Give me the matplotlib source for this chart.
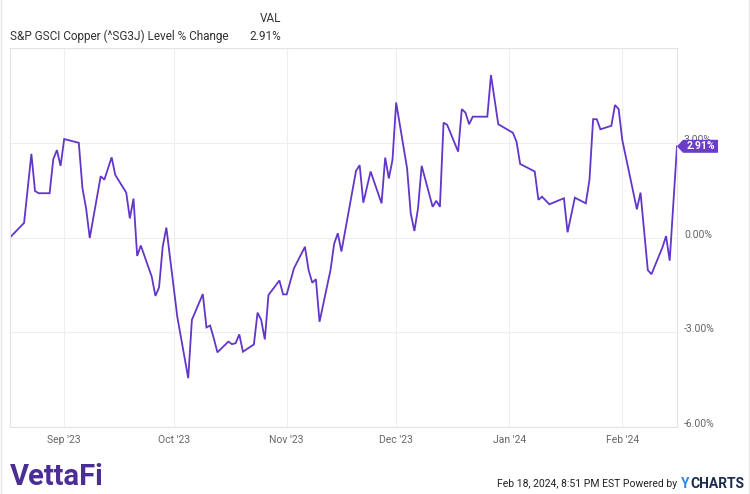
import numpy as np
import pandas as pd
import matplotlib
matplotlib.use('Agg')
import matplotlib.pyplot as plt
import matplotlib.dates as mdates
from matplotlib.patches import Polygon
from matplotlib.lines import Line2D

plt.rcParams['font.family'] = ['Roboto', 'DejaVu Sans']

#################################################
#            Data                               #
#################################################

dates = [
    '2023-08-17', '2023-08-21', '2023-08-23', '2023-08-24', '2023-08-25',
    '2023-08-28', '2023-08-29', '2023-08-30', '2023-08-31', '2023-09-01',
    '2023-09-05', '2023-09-06', '2023-09-07', '2023-09-08', '2023-09-11',
    '2023-09-12', '2023-09-14', '2023-09-15', '2023-09-18', '2023-09-19',
    '2023-09-20', '2023-09-21', '2023-09-22', '2023-09-25', '2023-09-26',
    '2023-09-27', '2023-09-28', '2023-09-29', '2023-10-02', '2023-10-05',
    '2023-10-06', '2023-10-09', '2023-10-10', '2023-10-11', '2023-10-12',
    '2023-10-13', '2023-10-16', '2023-10-17', '2023-10-18', '2023-10-19',
    '2023-10-20', '2023-10-23', '2023-10-24', '2023-10-25', '2023-10-26',
    '2023-10-27', '2023-10-30', '2023-10-31', '2023-11-01', '2023-11-03',
    '2023-11-06', '2023-11-07', '2023-11-08', '2023-11-09', '2023-11-10',
    '2023-11-13', '2023-11-14', '2023-11-15', '2023-11-16', '2023-11-20',
    '2023-11-21', '2023-11-22', '2023-11-24', '2023-11-27', '2023-11-28',
    '2023-11-29', '2023-11-30', '2023-12-01', '2023-12-04', '2023-12-05',
    '2023-12-06', '2023-12-07', '2023-12-08', '2023-12-11', '2023-12-12',
    '2023-12-13', '2023-12-14', '2023-12-15', '2023-12-18', '2023-12-19',
    '2023-12-20', '2023-12-21', '2023-12-22', '2023-12-26', '2023-12-27',
    '2023-12-29', '2024-01-02', '2024-01-03', '2024-01-04', '2024-01-08',
    '2024-01-09', '2024-01-10', '2024-01-12', '2024-01-16', '2024-01-17',
    '2024-01-19', '2024-01-22', '2024-01-23', '2024-01-24', '2024-01-25',
    '2024-01-26', '2024-01-29', '2024-01-30', '2024-01-31', '2024-02-01',
    '2024-02-05', '2024-02-06', '2024-02-08', '2024-02-09', '2024-02-12',
    '2024-02-13', '2024-02-14', '2024-02-16',
]
pct_change = [
    0.00, 0.48, 2.67, 1.49, 1.42,
    1.42, 2.50, 2.79, 2.29, 3.14,
    3.02, 1.58, 0.94, 0.00, 1.96,
    1.85, 2.56, 2.00, 1.44, 0.62,
    1.25, -0.57, -0.24, -1.23, -1.84,
    -1.57, -0.28, 0.33, -2.50, -4.45,
    -2.60, -1.78, -2.84, -2.78, -3.18,
    -3.63, -3.29, -3.37, -3.34, -3.06,
    -3.61, -3.38, -2.37, -2.60, -3.22,
    -1.81, -1.35, -1.79, -1.79, -0.96,
    -0.28, -1.02, -1.42, -1.31, -2.66,
    -1.02, -0.19, 0.15, -0.43, 2.13,
    2.31, 1.12, 2.11, 1.10, 2.55,
    1.89, 2.48, 4.30, 2.21, 0.78,
    0.22, 0.94, 2.29, 0.99, 1.18,
    0.99, 3.66, 3.59, 2.74, 4.09,
    3.98, 3.61, 3.85, 3.85, 5.17,
    3.61, 3.34, 3.06, 2.35, 2.11,
    1.21, 1.31, 1.07, 1.26, 0.18,
    1.28, 1.10, 1.84, 3.77, 3.77,
    3.45, 3.56, 4.22, 4.09, 3.11,
    0.91, 1.44, -1.02, -1.15, -0.30,
    0.06, -0.72, 2.91,
]
month_ticks = ['2023-09-01', '2023-10-01', '2023-11-01', '2023-12-01', '2024-01-01', '2024-02-01']
month_labels = ["Sep '23", "Oct '23", "Nov '23", "Dec '23", "Jan '24", "Feb '24"]
y_ticks = [-6, -3, 0, 3]
title = 'S&P GSCI Copper (^SG3J) Level % Change'
last_val = '2.91%'

#################################################
#            Figure                             #
#################################################

W, H = 750, 494
line_color = '#6236c9'
grid_color = '#eeeeee'
text_color = '#666666'

fig = plt.figure(figsize=(W / 100, H / 100), dpi=100)
ax = fig.add_axes([9.5 / W, 1 - 427 / H, (677 - 9.5) / W, (427 - 48) / H])

x = pd.to_datetime(dates)
ax.plot(x, pct_change, color=line_color, lw=1.3, solid_joinstyle='miter')

ax.set_xlim(pd.Timestamp('2023-08-17'), pd.Timestamp('2024-02-16'))
ax.set_ylim(-6, 6.03)

ax.set_xticks(pd.to_datetime(month_ticks))
ax.set_xticklabels(month_labels)
ax.set_yticks(y_ticks)
ax.set_yticklabels([f'{v:.2f}%' for v in y_ticks])
ax.yaxis.tick_right()
ax.tick_params(axis='both', length=0, labelsize=7.5, labelcolor=text_color)
ax.tick_params(axis='x', pad=6)
ax.tick_params(axis='y', pad=5)
for lbl in ax.get_yticklabels():
    lbl.set_va('baseline')

ax.grid(True, color=grid_color, lw=0.8)
ax.set_axisbelow(True)
for side in ['left', 'right', 'top', 'bottom']:
    ax.spines[side].set_color('#e3e3e3')
    ax.spines[side].set_linewidth(0.8)

# end value tag (sits over the 3.00% label, as in the original)
fig.canvas.draw()
renderer = fig.canvas.get_renderer()
px, py = ax.transData.transform((mdates.date2num(x[-1]), pct_change[-1]))
h2 = 6.5
tag = Polygon([(px, py), (px + 6, py + h2), (px + 41, py + h2),
               (px + 41, py - h2), (px + 6, py - h2)],
              closed=True, transform=None, facecolor='#6a3cc8', edgecolor='none', zorder=5)
fig.patches.append(tag)
fig.text((px + 23.5) / W, py / H, last_val, color='white', fontsize=7.5, fontweight='bold',
         ha='center', va='center', zorder=6)

# header
fig.text(281 / W, 1 - 19 / H, 'VAL', ha='right', va='center', fontsize=8.5, color='#333333')
fig.text(10 / W, 1 - 36 / H, title, ha='left', va='center', fontsize=8.5, color='#333333')
fig.text(281 / W, 1 - 36 / H, last_val, ha='right', va='center', fontsize=8.5, color='#333333')

# footer
fig.text(10 / W, 1 - 477 / H, 'VettaFi', ha='left', va='center', fontsize=21,
         fontweight='bold', color='#4b2e93')
charts = fig.text(744 / W, 1 - 484 / H, 'CHARTS', ha='right', va='center', fontsize=10,
                  fontweight='bold', color='#1d2b4f')
cx0 = charts.get_window_extent(renderer).x0
ylogo = fig.text((cx0 - 0.5) / W, 1 - 484 / H, 'Y', ha='right', va='center', fontsize=10,
                 fontweight='bold', color='#2b8be6')
yx0 = ylogo.get_window_extent(renderer).x0
fig.text((yx0 - 4) / W, 1 - 484 / H, 'Feb 18, 2024, 8:51 PM EST Powered by', ha='right',
         va='center', fontsize=7.5, color='#222222')

# image border
fig.lines.append(Line2D([0.5 / W, 0.5 / W], [0, 1], transform=fig.transFigure, color='#e6e6e6', lw=1))
fig.lines.append(Line2D([1 - 1.5 / W, 1 - 1.5 / W], [0, 1], transform=fig.transFigure, color='#e6e6e6', lw=1))

fig.savefig('out.png', dpi=100)
